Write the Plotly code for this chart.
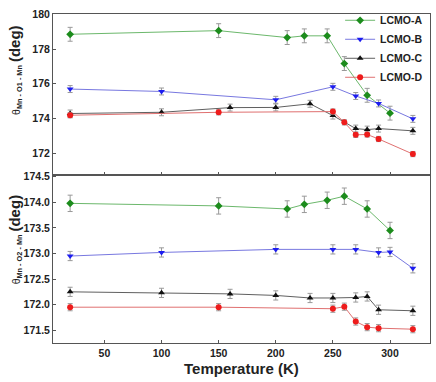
import plotly.graph_objects as go
from plotly.subplots import make_subplots

# temperatures (K) for each sample, top panel (Mn-O1-Mn)
t_a1 = [20, 150, 210, 225, 245, 260, 280, 300]
a1 = [178.85, 179.06, 178.66, 178.76, 178.76, 177.16, 175.33, 174.30]
t_b1 = [20, 100, 200, 250, 270, 290, 320]
b1 = [175.69, 175.55, 175.07, 175.82, 175.29, 174.86, 173.97]
t_c1 = [20, 100, 160, 200, 230, 250, 270, 280, 290, 320]
c1 = [174.28, 174.35, 174.62, 174.63, 174.84, 174.16, 173.41, 173.35, 173.41, 173.28]
t_d1 = [20, 150, 250, 260, 270, 280, 290, 320]
d1 = [174.18, 174.35, 174.39, 173.77, 173.05, 173.07, 172.81, 171.94]

# bottom panel (Mn-O2-Mn)
t_a2 = [20, 150, 210, 225, 245, 260, 280, 300]
a2 = [173.98, 173.93, 173.87, 173.96, 174.04, 174.12, 173.87, 173.45]
t_b2 = [20, 100, 200, 250, 270, 290, 300, 320]
b2 = [172.95, 173.02, 173.08, 173.08, 173.08, 173.02, 173.03, 172.71]
t_c2 = [20, 100, 160, 200, 230, 250, 270, 280, 290, 320]
c2 = [172.25, 172.23, 172.21, 172.18, 172.13, 172.13, 172.14, 172.16, 171.90, 171.88]
t_d2 = [20, 150, 250, 260, 270, 280, 290, 320]
d2 = [171.95, 171.95, 171.92, 171.96, 171.67, 171.56, 171.54, 171.52]

# error bar half widths
err1 = {"A": 0.4, "B": 0.2, "C": 0.2, "D": 0.15}
err2 = {"A": 0.16, "B": 0.09, "C": 0.09, "D": 0.07}

names = ["LCMO-A", "LCMO-B", "LCMO-C", "LCMO-D"]
markers = ["diamond", "triangle-down", "triangle-up", "circle"]
mcolors = ["#1c8c1c", "#1c1cf0", "#111111", "#ee1c1c"]
lcolors = ["#6cb86c", "#7878e0", "#606060", "#e07070"]

fig = make_subplots(rows=2, cols=1, shared_xaxes=True, vertical_spacing=0)

top = [(t_a1, a1), (t_b1, b1), (t_c1, c1), (t_d1, d1)]
bot = [(t_a2, a2), (t_b2, b2), (t_c2, c2), (t_d2, d2)]
keys = ["A", "B", "C", "D"]

for i in range(4):
    for row, data, err in [(1, top, err1), (2, bot, err2)]:
        x, y = data[i]
        fig.add_trace(go.Scatter(
            x=x, y=y, mode="lines+markers", name=names[i],
            showlegend=(row == 1),
            line=dict(color=lcolors[i], width=1),
            marker=dict(symbol=markers[i], color=mcolors[i], size=6),
            error_y=dict(type="constant", value=err[keys[i]], color="#999999",
                         thickness=1, width=2.5),
        ), row=row, col=1)

fam = "Liberation Sans, Arial"
title_top = ("θ<sub><b>Mn - O1 - Mn</b></sub> "
             "<span style='font-size:15px'><b>(deg)</b></span>")
title_bot = ("θ<sub><b>Mn - O2 - Mn</b></sub> "
             "<span style='font-size:15px'><b>(deg)</b></span>")

tickfont = dict(family=fam, size=10.5, color="#222222", weight="bold")
fig.update_xaxes(range=[5, 335], tickvals=[50, 100, 150, 200, 250, 300],
                 showline=True, linecolor="#555555", linewidth=1, mirror=True,
                 ticks="inside", ticklen=3, tickcolor="#555555",
                 showgrid=False, zeroline=False, tickfont=tickfont)
fig.update_yaxes(showline=True, linecolor="#555555", linewidth=1, mirror=True,
                 ticks="inside", ticklen=3, tickcolor="#555555",
                 showgrid=False, zeroline=False, tickfont=tickfont)
fig.update_yaxes(range=[170.72, 180.02], tickvals=[172, 174, 176, 178, 180],
                 domain=[0.51, 1], row=1, col=1)
fig.update_yaxes(range=[171.25, 174.53],
                 tickvals=[171.5, 172.0, 172.5, 173.0, 173.5, 174.0, 174.5],
                 tickformat=".1f", domain=[0, 0.51], row=2, col=1)

# axis titles as rotated annotations (they sit above panel centre in the original)
for txt, ypos in [(title_top, 0.83), (title_bot, 0.315)]:
    fig.add_annotation(text=txt, xref="paper", yref="paper", x=0, y=ypos,
                       xshift=-38, textangle=-90, xanchor="center", yanchor="middle",
                       showarrow=False, font=dict(family=fam, size=10.5, color="#222222"))

fig.add_annotation(text="<b>Temperature (K)</b>", xref="paper", yref="paper",
                   x=0.5, y=0, yshift=-25, xanchor="center", yanchor="middle",
                   showarrow=False, font=dict(family=fam, size=15, color="#222222"))

fig.update_layout(
    width=436, height=382,
    margin=dict(l=53, r=6, t=8, b=39),
    paper_bgcolor="white", plot_bgcolor="white",
    font=dict(family=fam, size=11, color="#222222"),
    legend=dict(x=0.995, y=1.025, xanchor="right", yanchor="top",
                bgcolor="rgba(0,0,0,0)", borderwidth=0,
                font=dict(family=fam, size=10.5, color="#222222", weight="bold"),
                itemwidth=30, tracegroupgap=0),
)

# the page has a default 8px body margin; drop it so the figure sits at 0,0
fig.write_html("out.html", config={"displayModeBar": False},
               post_script="document.body.style.margin='0';")
